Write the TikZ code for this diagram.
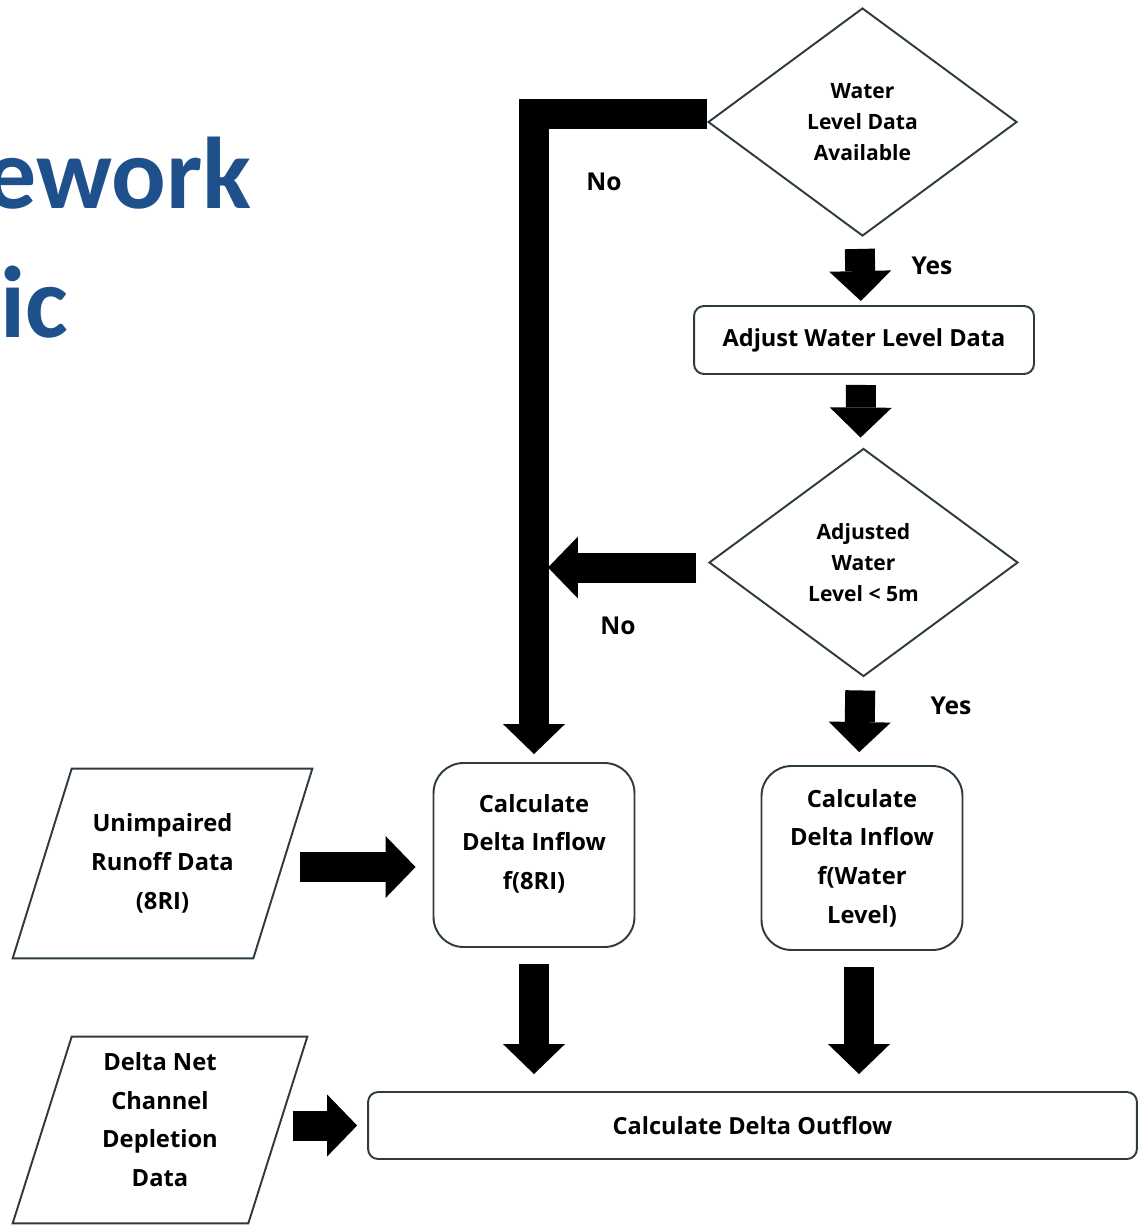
\documentclass[tikz,border=0pt]{standalone}
\usepackage{fontspec}
\setmainfont{Open Sans}
\newfontfamily\titlefont{Carlito}
\usepackage{tikz}
\usetikzlibrary{positioning}
\usetikzlibrary{shapes.geometric}
\usetikzlibrary{arrows.meta,calc}
\definecolor{titleblue}{RGB}{30,80,140}
\definecolor{outline}{RGB}{45,58,66}
\tikzstyle{decision}=[diamond,draw=outline,line width=1.1pt,aspect=1.355,minimum width=6.18cm,minimum height=4.56cm,inner sep=0pt,align=center,font=\bfseries\fontsize{12}{17.6}\selectfont]
\tikzstyle{widebox}=[rectangle,rounded corners=0.2cm,draw=outline,line width=1.1pt,align=center,font=\bfseries\fontsize{13.4}{15}\selectfont]
\tikzstyle{tallbox}=[rectangle,rounded corners=0.6cm,draw=outline,line width=1.1pt,minimum width=4.02cm,minimum height=3.68cm,align=center,font=\bfseries\fontsize{13.5}{22}\selectfont]
\tikzstyle{inputdata}=[rectangle,minimum width=5.98cm,minimum height=3.78cm,inner sep=0pt,align=center,font=\bfseries\fontsize{13.5}{22}\selectfont]
\tikzstyle{slanted}=[draw=outline,line width=1.1pt]
\tikzstyle{blockarrow}=[draw=black,line width=0.6cm,-{Triangle[width=1.24cm,length=0.6cm,line width=0pt]}]
\tikzstyle{answer}=[font=\bfseries\fontsize{14}{16}\selectfont]

\begin{document}
\begin{tikzpicture}[x=0.02cm,y=-0.02cm]
    \useasboundingbox (0,0) rectangle (1145,1225);

    % title, cut off at the left
    \node[anchor=base east,inner sep=0pt,text=titleblue,font=\titlefont\bfseries\fontsize{58}{70}\selectfont] (titletop) at (252,208) {ework};
    \node[anchor=base west,inner sep=0pt,text=titleblue,font=\titlefont\bfseries\fontsize{58}{70}\selectfont] (titlebot) at (0,337) {ic};

    % decisions and steps
    \node[decision] (d1) at (862.5,122) {Water\\Level Data\\Available};
    \node[widebox, minimum width=6.8cm, minimum height=1.36cm] (adj) at (864,340) {Adjust Water Level Data};
    \node[decision] (d2) at (863.5,562.5) {Adjusted\\Water\\Level < 5m};
    \node[tallbox, text depth=15pt] (f8) at (534,855) {Calculate\\Delta Inflow\\f(8RI)};
    \node[tallbox] (fwl) at (862,858) {Calculate\\Delta Inflow\\f(Water\\Level)};
    \node[widebox, minimum width=15.38cm, minimum height=1.34cm] (out) at (752.5,1125.5) {Calculate Delta Outflow};
    \node[inputdata] (p1) at (162.5,863.5) {Unimpaired\\Runoff Data\\(8RI)};
    \node[inputdata, minimum width=5.88cm, minimum height=3.72cm, text depth=12pt] (p2) at (160,1130) {Delta Net\\Channel\\Depletion\\Data};

    % data inputs are parallelograms
    \foreach \n in {p1,p2}
        \draw[slanted] ([xshift=1.18cm]\n.north west) -- (\n.north east) -- ([xshift=-1.18cm]\n.south east) -- (\n.south west) -- cycle;

    \node[answer] (yes1) at (932,266) {Yes};
    \node[answer] (yes2) at (951,706) {Yes};
    \node[answer] (no1) at (604,182) {No};
    \node[answer] (no2) at (618,626) {No};

    % block arrows
    \foreach \source/\dest/\a/\b in {d1.south/adj.north/0.24/0.08, adj.south/d2.north/0.2/0.2, d2.south/fwl.north/0.26/0.26}
        \draw[blockarrow, shorten <=\a cm, shorten >=\b cm] ([xshift=-0.06cm]\source) -- ([xshift=-0.06cm]\dest);

    \draw[blockarrow, shorten <=0.32cm, shorten >=0.34cm] (f8.south) -- (f8.south |- out.north);
    \draw[blockarrow, shorten <=0.32cm, shorten >=0.34cm] ([xshift=-0.06cm]fwl.south) -- ([xshift=-0.06cm]fwl.south |- out.north);
    \draw[blockarrow, shorten <=-0.24cm, shorten >=0.34cm] ([yshift=-0.07cm]p1.east) -- ([yshift=-0.07cm]p1.east -| f8.west);
    \draw[blockarrow, shorten <=-0.28cm, shorten >=0.2cm] (p2.east |- out.west) -- (out.west);

    \draw[blockarrow, shorten >=0.16cm] ([yshift=0.16cm]d1.west) -| (f8.north);
    \coordinate (nojoin) at (f8.north |- d2.west);
    \draw[blockarrow, shorten <=0.24cm, shorten >=0.28cm] ([yshift=-0.1cm]d2.west) -- ([yshift=-0.1cm]nojoin);
\end{tikzpicture}
\end{document}
